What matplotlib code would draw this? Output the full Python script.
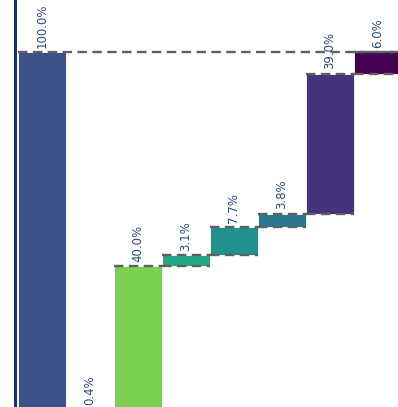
import numpy as np
import matplotlib
matplotlib.use("Agg")
import matplotlib.pyplot as plt

# -------------------------------------------------------------------
# Datos
# -------------------------------------------------------------------
labels = ["100.0%", "0.4%", "40.0%", "3.1%", "7.7%", "3.8%", "39.0%", "6.0%"]
total = 100.0
steps = [0.4, 40.0, 3.1, 7.7, 3.8, 39.0, 6.0]
colors = ["#3B528B", "#3B528B", "#7AD151", "#22A884", "#21918C",
          "#2A788E", "#46337E", "#440154"]

# — alturas y bases de cada barra
heights = [total] + steps
bottoms = [0.0] + list(np.cumsum([0.0] + steps[:-1]))
x = np.arange(len(heights))

fig = plt.figure(figsize=(3.98, 4.07), dpi=100)
ax = fig.add_axes([15/398, 0, 1 - 15/398, 1])

ax.bar(x, heights, bottom=bottoms, width=0.98, color=colors,
       edgecolor="white", linewidth=0.6)

dash = dict(color="#606060", lw=1.7, linestyle=(0, (4, 2.3)))

# — líneas punteadas en base y tope de cada barra
for xi, b, h in zip(x[1:], bottoms[1:], heights[1:]):
    ax.hlines([b, b + h], xi - 0.5, xi + 0.5, **dash)

# — línea del total
ax.hlines(total, x[0] - 0.5, x[-1] + 0.5, **dash)

# — etiquetas rotadas
for xi, b, h, lab in zip(x, bottoms, heights, labels):
    ax.annotate(lab, (xi, b + h), xytext=(0, 3), textcoords="offset points",
                rotation=90, ha="center", va="bottom", fontsize=8.5,
                color="#2d4a7c", annotation_clip=False)

ax.set_xlim(-0.5625, 7.417)
ax.set_ylim(1.14, 114.48)
ax.set_xticks([])
ax.set_yticks([])
for s in ["top", "right", "bottom"]:
    ax.spines[s].set_visible(False)
ax.spines["left"].set_color("#1f2a6e")
ax.spines["left"].set_linewidth(2.2)

fig.savefig("out.png", dpi=100)
